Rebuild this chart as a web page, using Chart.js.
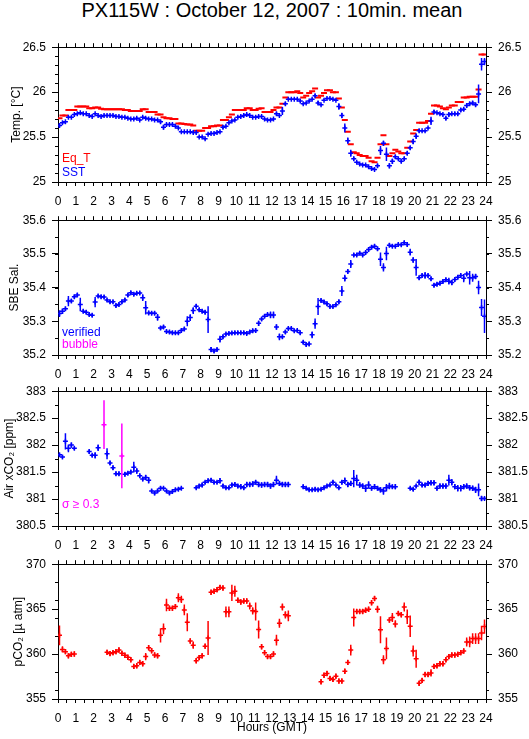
<!DOCTYPE html>
<html>
<head>
<meta charset="utf-8">
<title>PX115W : October 12, 2007 : 10min. mean</title>
<script src="https://cdn.jsdelivr.net/npm/chart.js@4.4.1/dist/chart.umd.min.js"></script>
<style>
  html, body { margin: 0; padding: 0; background: #fff; }
  body { width: 529px; height: 739px; position: relative; overflow: hidden;
         font-family: 'Liberation Sans', Arial, Helvetica, sans-serif; }
  #title { position: absolute; left: 58px; width: 428px; top: 0px; text-align: center;
           font-size: 20px; line-height: 20px; color: #000; white-space: nowrap; }
  canvas { position: absolute; left: 0; }
</style>
</head>
<body>
<div id="title">PX115W : October 12, 2007 : 10min. mean</div>
<canvas id="temp" width="529" height="172" style="top:34px"></canvas>
<canvas id="sal"  width="529" height="172" style="top:207px"></canvas>
<canvas id="air"  width="529" height="172" style="top:378px"></canvas>
<canvas id="pco2" width="529" height="188" style="top:551px"></canvas>
<script>
/* PX115W 10-min means — four stacked panels */
const C = { blue: '#0000ff', red: '#ff0000', magenta: '#ff00ff', black: '#000000' };
const FONT = "'Liberation Sans', Arial, Helvetica, sans-serif";

// 144 ten-minute bins, plotted at the bin centre (hours GMT)
const hours = Array.from({ length: 144 }, (_, k) => (k * 10 + 5) / 60);

// ── Temperature ───────────────────────────────────
const sst = [
  25.63, 25.66, 25.67, 25.72, 25.72, 25.75,
  25.76, 25.77, 25.76, 25.76, 25.74, 25.73,
  25.76, 25.74, 25.73, 25.74, 25.74, 25.74,
  25.74, 25.73, 25.73, 25.72, 25.72, 25.71,
  25.70, 25.70, 25.71, 25.69, 25.72, 25.71,
  25.70, 25.70, 25.69, 25.69, 25.67, 25.61,
  25.64, 25.64, 25.64, 25.62, 25.60, 25.56,
  25.56, 25.56, 25.56, 25.55, 25.55, 25.50,
  25.50, 25.48, 25.53, 25.54, 25.54, 25.55,
  25.56, 25.61, 25.62, 25.66, 25.68, 25.69,
  25.72, 25.73, 25.74, 25.75, 25.74, 25.72,
  25.72, 25.73, 25.73, 25.70, 25.69, 25.69,
  25.70, 25.76, 25.74, 25.79, 25.87, 25.92,
  25.92, 25.92, 25.92, 25.90, 25.87, 25.88,
  25.90, 25.92, 25.96, 25.88, 25.86, 25.91,
  25.93, 25.93, 25.92, 25.91, 25.84, 25.74,
  25.60, 25.46, 25.32, 25.26, 25.22, 25.20,
  25.19, 25.19, 25.17, 25.15, 25.14, 25.18,
  25.35, 25.43, 25.31, 25.18, 25.23, 25.28,
  25.26, 25.23, 25.26, 25.32, 25.38, 25.45,
  25.51, 25.57, 25.57, 25.57, 25.60, 25.68,
  25.78, 25.77, 25.76, 25.75, 25.71, 25.75,
  25.76, 25.76, 25.76, 25.80, 25.81, 25.85,
  25.87, 25.88, 25.86, 25.98, 26.31, 26.34,
];
const sstErr = [
  0.02, 0.01, 0.01, 0.01, 0.01, 0.01,
  0.01, 0.01, 0.01, 0.01, 0.01, 0.01,
  0.01, 0.01, 0.01, 0.01, 0.01, 0.01,
  0.01, 0.01, 0.01, 0.01, 0.01, 0.01,
  0.01, 0.01, 0.01, 0.01, 0.01, 0.01,
  0.01, 0.01, 0.01, 0.01, 0.02, 0.027,
  0.01, 0.01, 0.01, 0.01, 0.01, 0.01,
  0.01, 0.01, 0.01, 0.01, 0.01, 0.01,
  0.01, 0.01, 0.01, 0.01, 0.01, 0.01,
  0.01, 0.02, 0.01, 0.01, 0.01, 0.01,
  0.01, 0.01, 0.01, 0.01, 0.01, 0.01,
  0.01, 0.01, 0.01, 0.01, 0.01, 0.01,
  0.01, 0.02, 0.01, 0.045, 0.02, 0.01,
  0.01, 0.01, 0.01, 0.01, 0.01, 0.01,
  0.01, 0.01, 0.02, 0.02, 0.01, 0.01,
  0.01, 0.01, 0.01, 0.01, 0.035, 0.03,
  0.05, 0.035, 0.04, 0.02, 0.01, 0.01,
  0.01, 0.01, 0.01, 0.01, 0.01, 0.02,
  0.05, 0.03, 0.075, 0.03, 0.03, 0.02,
  0.01, 0.02, 0.02, 0.02, 0.02, 0.03,
  0.03, 0.02, 0.01, 0.01, 0.01, 0.045,
  0.02, 0.01, 0.01, 0.01, 0.02, 0.02,
  0.01, 0.02, 0.02, 0.02, 0.02, 0.02,
  0.02, 0.02, 0.02, 0.105, 0.07, 0.04,
];
const eqT = [
  25.71, 25.74, 25.74, 25.80, 25.80, 25.80,
  25.84, 25.84, 25.84, 25.84, 25.82, 25.82,
  25.83, 25.83, 25.815, 25.81, 25.81, 25.81,
  25.81, 25.81, 25.81, 25.81, 25.80, 25.80,
  25.79, 25.79, 25.79, 25.79, 25.81, 25.81,
  25.78, 25.78, 25.78, 25.75, 25.75, 25.72,
  25.71, 25.71, 25.70, 25.70, 25.65, 25.65,
  25.645, 25.64, 25.64, 25.63, 25.57, 25.57,
  25.57, 25.60, 25.60, 25.62, 25.62, 25.63,
  25.63, 25.69, 25.69, 25.72, 25.75, 25.80,
  25.80, 25.80, 25.80, 25.82, 25.82, 25.80,
  25.80, 25.815, 25.82, 25.78, 25.78, 25.78,
  25.80, 25.83, 25.83, 25.87, 25.94, 26.00,
  26.00, 26.00, 26.01, 25.99, 25.94, 25.96,
  25.99, 26.01, 26.04, 25.94, 25.96, 25.99,
  26.02, 26.02, 26.00, 26.00, 25.93, 25.83,
  25.69, 25.56, 25.42, 25.33, 25.32, 25.30,
  25.29, 25.29, 25.27, 25.23, 25.22, 25.27,
  25.42, 25.52, 25.42, 25.29, 25.32, 25.36,
  25.34, 25.32, 25.32, 25.38, 25.45, 25.54,
  25.58, 25.66, 25.66, 25.66, 25.68, 25.76,
  25.85, 25.85, 25.84, 25.82, 25.81, 25.83,
  25.85, 25.85, 25.89, 25.89, 25.94, 25.94,
  25.95, 25.95, 25.95, 26.03, 26.42, 26.42,
];

// ── Salinity ──────────────────────────────────────
const sal = [
  35.323, 35.330, 35.337, 35.360, 35.360, 35.373,
  35.378, 35.350, 35.330, 35.327, 35.320, 35.318,
  35.357, 35.375, 35.373, 35.372, 35.363, 35.358,
  35.358, 35.347, 35.350, 35.358, 35.363, 35.378,
  35.385, 35.380, 35.383, 35.384, 35.370, 35.340,
  35.325, 35.324, 35.324, 35.312, 35.280, 35.283,
  35.270, 35.268, 35.266, 35.266, 35.266, 35.273,
  35.277, 35.300, 35.311, 35.332, 35.345, 35.334,
  35.330, 35.327, 35.305, 35.216, 35.212, 35.216,
  35.247, 35.254, 35.262, 35.264, 35.265, 35.266,
  35.266, 35.266, 35.266, 35.264, 35.268, 35.272,
  35.273, 35.294, 35.307, 35.315, 35.320, 35.319,
  35.319, 35.283, 35.254, 35.254, 35.268, 35.279,
  35.279, 35.272, 35.273, 35.266, 35.238, 35.231,
  35.233, 35.260, 35.293, 35.344, 35.362, 35.357,
  35.352, 35.344, 35.344, 35.349, 35.358, 35.390,
  35.428, 35.448, 35.470, 35.497, 35.497, 35.502,
  35.497, 35.504, 35.513, 35.520, 35.523, 35.515,
  35.484, 35.460, 35.501, 35.526, 35.523, 35.523,
  35.528, 35.527, 35.533, 35.528, 35.505, 35.482,
  35.460, 35.429, 35.436, 35.436, 35.436, 35.426,
  35.407, 35.410, 35.413, 35.418, 35.423, 35.419,
  35.415, 35.424, 35.431, 35.436, 35.428, 35.440,
  35.429, 35.429, 35.433, 35.400, 35.341, 35.315,
];
const salErr = [
  0.010, 0.008, 0.006, 0.015, 0.006, 0.006,
  0.006, 0.020, 0.006, 0.005, 0.005, 0.005,
  0.015, 0.005, 0.005, 0.005, 0.005, 0.006,
  0.005, 0.006, 0.006, 0.006, 0.006, 0.006,
  0.005, 0.005, 0.005, 0.005, 0.010, 0.020,
  0.006, 0.005, 0.005, 0.010, 0.006, 0.006,
  0.005, 0.005, 0.005, 0.005, 0.005, 0.005,
  0.005, 0.015, 0.010, 0.010, 0.006, 0.006,
  0.006, 0.006, 0.040, 0.008, 0.005, 0.005,
  0.010, 0.006, 0.005, 0.005, 0.005, 0.005,
  0.005, 0.005, 0.005, 0.005, 0.005, 0.006,
  0.006, 0.008, 0.006, 0.005, 0.005, 0.010,
  0.010, 0.008, 0.010, 0.006, 0.006, 0.005,
  0.005, 0.005, 0.005, 0.006, 0.005, 0.006,
  0.006, 0.010, 0.015, 0.025, 0.006, 0.006,
  0.006, 0.006, 0.005, 0.005, 0.006, 0.015,
  0.010, 0.006, 0.012, 0.006, 0.005, 0.005,
  0.005, 0.005, 0.006, 0.006, 0.006, 0.006,
  0.020, 0.012, 0.020, 0.006, 0.005, 0.005,
  0.005, 0.005, 0.006, 0.006, 0.010, 0.008,
  0.025, 0.006, 0.006, 0.010, 0.006, 0.006,
  0.006, 0.006, 0.006, 0.006, 0.006, 0.010,
  0.008, 0.006, 0.006, 0.006, 0.012, 0.006,
  0.020, 0.012, 0.008, 0.020, 0.025, 0.050,
];

// ── Air xCO2 ──────────────────────────────────────
const airX = [
  381.82, 381.78, 382.07, 381.94, 382.00, 381.94,
  null, null, null, null, 381.88, 381.81,
  381.81, 381.95, null, null, 381.84, 381.67,
  381.58, 381.47, 381.47, null, 381.46, 381.48,
  381.50, 381.59, 381.52, 381.43, 381.37, 381.40,
  381.35, 381.15, 381.11, 381.15, 381.20, 381.20,
  381.15, 381.11, 381.14, 381.17, 381.18, 381.20,
  null, null, null, null, 381.21, 381.24,
  381.26, 381.31, 381.34, 381.35, 381.31, 381.31,
  381.34, 381.24, 381.21, 381.21, 381.26, 381.27,
  381.24, 381.23, 381.21, 381.27, 381.27, 381.28,
  381.31, 381.27, 381.26, 381.27, 381.27, 381.24,
  381.27, 381.35, 381.29, 381.27, 381.27, 381.27,
  null, null, null, null, 381.23, 381.20,
  381.17, 381.17, 381.18, 381.17, 381.18, 381.21,
  381.24, 381.26, 381.31, 381.26, 381.21, 381.31,
  381.34, 381.27, 381.29, 381.38, 381.35, 381.26,
  381.24, 381.20, 381.26, 381.20, 381.23, 381.20,
  381.17, 381.15, 381.21, 381.24, 381.23, 381.23,
  null, null, null, null, 381.20, 381.18,
  381.24, 381.31, 381.26, 381.26, 381.29, 381.30,
  381.30, 381.20, 381.24, 381.24, 381.24, 381.35,
  381.31, 381.23, 381.20, 381.20, 381.23, 381.24,
  381.21, 381.20, 381.17, 381.17, 381.01, 381.01,
];
const airErr = [
  0.03, 0.03, 0.15, 0.07, 0.05, 0.03,
  0, 0, 0, 0, 0.04, 0.03,
  0.06, 0.06, 0, 0, 0.10, 0.04,
  0.04, 0.04, 0.04, 0, 0.04, 0.03,
  0.04, 0.10, 0.05, 0.04, 0.04, 0.05,
  0.06, 0.03, 0.04, 0.04, 0.04, 0.03,
  0.03, 0.03, 0.03, 0.03, 0.03, 0.03,
  0, 0, 0, 0, 0.03, 0.04,
  0.04, 0.03, 0.04, 0.04, 0.03, 0.03,
  0.05, 0.04, 0.03, 0.03, 0.04, 0.04,
  0.04, 0.05, 0.04, 0.05, 0.05, 0.05,
  0.04, 0.05, 0.05, 0.05, 0.05, 0.05,
  0.05, 0.08, 0.05, 0.05, 0.05, 0.05,
  0, 0, 0, 0, 0.04, 0.03,
  0.03, 0.03, 0.04, 0.03, 0.03, 0.03,
  0.03, 0.03, 0.04, 0.03, 0.03, 0.04,
  0.06, 0.05, 0.05, 0.16, 0.10, 0.05,
  0.05, 0.07, 0.07, 0.04, 0.05, 0.04,
  0.05, 0.07, 0.07, 0.06, 0.04, 0.05,
  0, 0, 0, 0, 0.03, 0.03,
  0.03, 0.05, 0.04, 0.04, 0.05, 0.05,
  0.05, 0.04, 0.05, 0.05, 0.05, 0.10,
  0.06, 0.05, 0.06, 0.06, 0.05, 0.05,
  0.05, 0.05, 0.06, 0.12, 0.05, 0.03,
];
// flagged air readings (sigma >= 0.3)
const airFlagHours = [2.58, 3.58];
const airFlagVals  = [382.38, 381.80];
const airFlagErr   = [0.45, 0.60];

// ── Seawater pCO2 ─────────────────────────────────
const pco2 = [
  362.08, 360.52, 360.27, 359.80, 359.97, 360.00,
  null, null, null, null, null, null,
  null, null, null, null, 360.19, 360.05,
  360.16, 360.27, 360.45, 360.08, 359.87, 359.65,
  359.36, 358.63, 358.70, 359.07, 358.92, 359.72,
  360.70, 360.37, 359.90, 359.80, 362.08, 362.81,
  365.46, 365.10, 365.10, 365.28, 366.26, 366.08,
  364.91, 363.53, 361.46, 360.99, 359.25, 359.61,
  359.80, 360.88, 361.79, 366.88, 366.99, 367.17,
  367.42, 367.35, 364.70, 364.70, 366.80, 366.99,
  366.00, 365.79, 365.90, 365.90, 365.35, 364.81,
  364.73, 362.74, 360.81, 360.16, 359.72, 359.72,
  360.00, 361.54, 363.43, 365.24, 364.37, 364.26,
  null, null, null, null, null, null,
  null, null, null, null, 356.92, 357.65,
  357.83, 357.29, 357.18, 357.54, 356.99, 356.99,
  358.09, 359.07, 360.45, 364.08, 364.73, 364.73,
  364.73, 364.88, 364.99, 365.71, 366.19, 364.99,
  362.70, 359.36, 360.63, 363.79, 364.08, 363.35,
  364.52, 364.37, 365.24, 364.15, 363.10, 360.34,
  359.47, 356.74, 357.07, 357.72, 357.72, 357.90,
  358.63, 358.70, 358.92, 358.92, 359.36, 359.72,
  359.90, 359.90, 359.97, 360.16, 360.34, 361.35,
  361.35, 361.72, 361.72, 361.72, 362.34, 363.06,
];
const pco2Err = [
  1.1, 0.35, 0.3, 0.3, 0.3, 0.3,
  0, 0, 0, 0, 0, 0,
  0, 0, 0, 0, 0.3, 0.3,
  0.3, 0.3, 0.3, 0.3, 0.3, 0.3,
  0.3, 0.3, 0.3, 0.3, 0.3, 0.4,
  0.3, 0.3, 0.3, 0.3, 0.8, 0.6,
  0.7, 0.3, 0.3, 0.3, 0.5, 0.4,
  0.6, 1.0, 0.3, 0.4, 0.3, 0.3,
  0.3, 0.3, 1.9, 0.3, 0.3, 0.3,
  0.3, 0.3, 0.6, 0.6, 0.9, 0.6,
  0.3, 0.3, 0.3, 0.3, 0.4, 0.4,
  1.0, 1.0, 0.3, 0.3, 0.3, 0.3,
  0.3, 0.6, 0.5, 0.4, 0.4, 0.6,
  0, 0, 0, 0, 0, 0,
  0, 0, 0, 0, 0.3, 0.3,
  0.3, 0.3, 0.3, 0.3, 0.3, 0.3,
  0.3, 0.3, 0.6, 1.0, 0.3, 0.3,
  0.3, 0.3, 0.3, 0.3, 0.3, 0.4,
  1.5, 0.5, 1.2, 0.3, 0.5, 0.4,
  0.3, 0.3, 0.5, 0.8, 1.2, 0.6,
  1.0, 0.3, 0.3, 0.3, 0.3, 0.4,
  0.3, 0.3, 0.3, 0.3, 0.3, 0.3,
  0.3, 0.3, 0.3, 0.3, 0.3, 0.5,
  0.6, 0.6, 0.6, 0.6, 0.8, 0.8,
];

// ── helpers ───────────────────────────────────────
function points(xs, vals, errs) {
  return xs.map((h, i) => ({ x: h, y: vals[i], e: errs ? errs[i] : 0 }))
           .filter(p => p.y !== null);
}

function crossSet(label, data, color) {
  return { label, data, pointStyle: 'cross', pointRadius: 2.5, pointBorderWidth: 1.5,
           pointBorderColor: color, pointBackgroundColor: color, borderColor: color };
}

function dashSet(label, data, color) {
  return { label, data, pointStyle: 'line', pointRadius: 3, pointBorderWidth: 2,
           pointBorderColor: color, pointBackgroundColor: color, borderColor: color };
}

// vertical error bars, positioned through the y scale
const errorBars = {
  id: 'errorBars',
  afterDatasetsDraw(chart) {
    const ctx = chart.ctx;
    chart.data.datasets.forEach((ds, i) => {
      const meta = chart.getDatasetMeta(i);
      const ys = chart.scales[meta.yAxisID];
      ctx.save();
      ctx.strokeStyle = ds.pointBorderColor;
      ctx.lineWidth = 1.5;
      ctx.beginPath();
      ds.data.forEach((p, j) => {
        if (!p.e) return;
        const x = meta.data[j].x;
        ctx.moveTo(x, ys.getPixelForValue(p.y - p.e));
        ctx.lineTo(x, ys.getPixelForValue(p.y + p.e));
      });
      ctx.stroke();
      ctx.restore();
    });
  }
};

// short minor ticks on both y axes
function minorTicks(from, step) {
  return {
    id: 'minorTicks',
    afterDraw(chart) {
      const { ctx, chartArea: a } = chart;
      const y = chart.scales.y;
      ctx.save();
      ctx.strokeStyle = C.black;
      ctx.lineWidth = 1;
      ctx.beginPath();
      for (let v = from; v <= y.max + 1e-9; v += step) {
        const py = Math.round(y.getPixelForValue(v)) + 0.5;
        ctx.moveTo(a.left - 3, py); ctx.lineTo(a.left, py);
        ctx.moveTo(a.right, py); ctx.lineTo(a.right + 3, py);
      }
      ctx.stroke();
      ctx.restore();
    }
  };
}

// text legend in the lower-left corner of the plot
function cornerLegend(items) {
  return {
    id: 'cornerLegend',
    afterDraw(chart) {
      const { ctx, chartArea: a } = chart;
      ctx.save();
      ctx.font = '12px ' + FONT;
      ctx.textBaseline = 'alphabetic';
      items.forEach(it => {
        ctx.fillStyle = it.color;
        ctx.fillText(it.text, a.left + 4, a.bottom - it.dy);
      });
      ctx.restore();
    }
  };
}

const tickFont = { family: FONT, size: 12 };
const fmt = v => String(Math.round(v * 100) / 100);

function panel(id, cfg) {
  const last = !!cfg.xTitle;
  const yAxis = (pos, width) => ({
    type: 'linear', position: pos, min: cfg.min, max: cfg.max,
    border: { display: true, color: C.black, width: 1 },
    grid: { drawOnChartArea: false, drawTicks: true, tickLength: 6, color: C.black },
    ticks: { stepSize: cfg.major, color: C.black, font: tickFont, padding: 6, callback: fmt },
    afterFit: s => { s.width = width; },
  });
  const left = yAxis('left', 58);
  left.title = { display: true, text: cfg.yTitle, color: C.black, font: tickFont,
                 padding: { top: cfg.titlePad, bottom: 0 } };
  return new Chart(document.getElementById(id), {
    type: 'scatter',
    data: { datasets: cfg.datasets },
    options: {
      responsive: false,
      animation: false,
      events: [],
      layout: { padding: 0 },
      plugins: { legend: { display: false }, tooltip: { enabled: false } },
      scales: {
        x: {
          type: 'linear', position: 'bottom', min: 0, max: 24,
          border: { display: true, color: C.black, width: 1 },
          grid: { drawOnChartArea: false, drawTicks: true, tickLength: 4, color: C.black },
          ticks: { stepSize: 0.5, autoSkip: false, maxRotation: 0, padding: 8, color: C.black,
                   font: tickFont, callback: v => Number.isInteger(v) ? String(v) : '' },
          title: last
            ? { display: true, text: cfg.xTitle, color: C.black, font: tickFont, padding: { top: 0, bottom: 4 } }
            : { display: false },
          afterFit: s => { s.height = last ? 40 : 24; },
        },
        xTop: {
          type: 'linear', position: 'top', min: 0, max: 24,
          border: { display: true, color: C.black, width: 1 },
          grid: { drawOnChartArea: false, drawTicks: true, tickLength: 4, color: C.black },
          ticks: { display: false, stepSize: 0.5, autoSkip: false },
          afterFit: s => { s.height = 10; },
        },
        y: left,
        y2: yAxis('right', 43),
      },
    },
    plugins: [errorBars, minorTicks(cfg.minorFrom, cfg.minor), cornerLegend(cfg.legend)],
  });
}

// ── panels ────────────────────────────────────────
panel('temp', {
  min: 25, max: 26.5, major: 0.5, minorFrom: 25, minor: 0.1,
  yTitle: 'Temp. [°C]', titlePad: 9,
  legend: [{ text: 'Eq_T', color: C.red, dy: 20 }, { text: 'SST', color: C.blue, dy: 6 }],
  datasets: [
    crossSet('SST', points(hours, sst, sstErr), C.blue),
    dashSet('Eq_T', points(hours, eqT), C.red),
  ],
});

panel('sal', {
  min: 35.2, max: 35.6, major: 0.1, minorFrom: 35.2, minor: 0.05,
  yTitle: 'SBE Sal.', titlePad: 7,
  legend: [{ text: 'verified', color: C.blue, dy: 19 }, { text: 'bubble', color: C.magenta, dy: 7 }],
  datasets: [crossSet('verified', points(hours, sal, salErr), C.blue)],
});

panel('air', {
  min: 380.5, max: 383, major: 0.5, minorFrom: 380.5, minor: 0.25,
  yTitle: 'Air xCO₂ [ppm]', titlePad: 2,
  legend: [{ text: 'σ ≥ 0.3', color: C.magenta, dy: 18 }],
  datasets: [
    crossSet('Air xCO2', points(hours, airX, airErr), C.blue),
    crossSet('σ ≥ 0.3', points(airFlagHours, airFlagVals, airFlagErr), C.magenta),
  ],
});

panel('pco2', {
  min: 355, max: 370, major: 5, minorFrom: 356, minor: 2,
  yTitle: 'pCO₂ [µ atm]', titlePad: 11, xTitle: 'Hours (GMT)',
  legend: [],
  datasets: [crossSet('pCO2', points(hours, pco2, pco2Err), C.red)],
});
</script>
</body>
</html>
